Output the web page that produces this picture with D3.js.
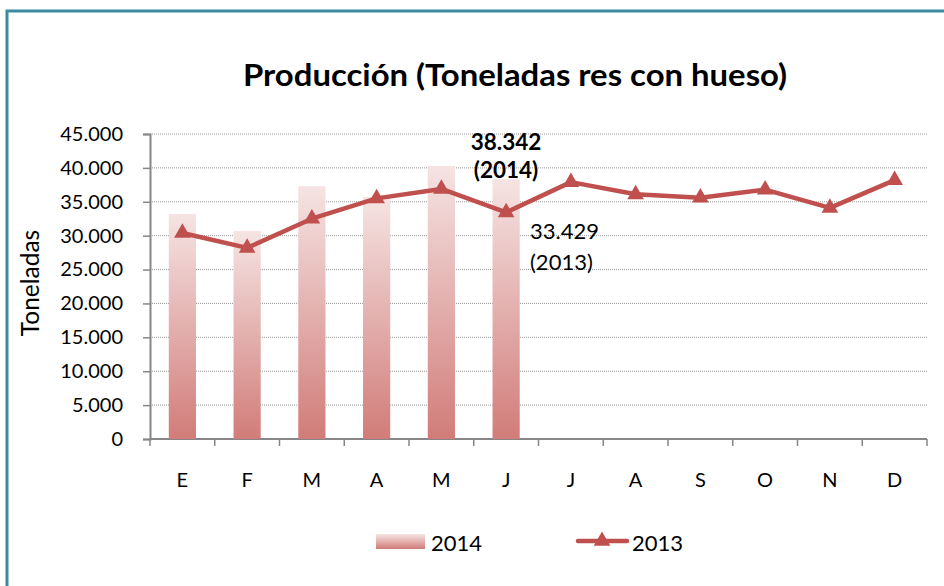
<!DOCTYPE html>
<html>
<head>
<meta charset="utf-8">
<script src="https://cdn.jsdelivr.net/npm/d3@7"></script>
<style>
  body { margin: 0; background: #fff; }
  svg { font-family: Lato, "Liberation Sans", sans-serif; }
</style>
</head>
<body>
<svg id="chart" width="944" height="586"></svg>
<script>
// months (Spanish initials) and production in tonnes
const months = ["E", "F", "M", "A", "M", "J", "J", "A", "S", "O", "N", "D"];
const prod2014 = [33200, 30700, 37300, 35700, 40300, 38342];
const prod2013 = [30400, 28200, 32500, 35500, 36900, 33429, 37900, 36100, 35600, 36800, 34100, 38200];
const yTicks = [0, 5000, 10000, 15000, 20000, 25000, 30000, 35000, 40000, 45000];

const red = "#C0504D";
const svg = d3.select("#chart");

svg.append("rect").attr("width", 944).attr("height", 586).attr("fill", "#fff");

// frame (only top and left edges visible)
svg.append("path")
  .attr("d", "M7,600 L7,11 L960,11")
  .attr("fill", "none")
  .attr("stroke", "#3A8BA0")
  .attr("stroke-width", 3);

// gradient for bars
const grad = svg.append("defs").append("linearGradient")
  .attr("id", "barGrad").attr("x1", 0).attr("y1", 0).attr("x2", 0).attr("y2", 1);
grad.append("stop").attr("offset", "0%").attr("stop-color", "#F5E4E3");
grad.append("stop").attr("offset", "100%").attr("stop-color", "#D17C79");

// scales
const idx = d3.range(months.length);
const xScale = d3.scaleBand().domain(idx).range([150, 927]);
const yScale = d3.scaleLinear().domain([0, 45000]).range([439, 134]);
const bw = xScale.bandwidth();

// grid lines
svg.append("g").selectAll("line")
  .data(yTicks.slice(1))
  .enter().append("line")
  .attr("x1", 150).attr("x2", 927)
  .attr("y1", d => yScale(d)).attr("y2", d => yScale(d))
  .attr("stroke", "#9A9A9A")
  .attr("stroke-width", 1)
  .attr("stroke-dasharray", "1,1");

// y axis
const yAxis = d3.axisLeft(yScale).tickValues(yTicks).tickSize(7)
  .tickFormat(d => d3.format(",")(d).replace(/,/g, "."));
const gy = svg.append("g").attr("transform", "translate(150,0)").call(yAxis);
gy.select(".domain").attr("stroke", "#868686").attr("stroke-width", 2);
gy.selectAll(".tick line").attr("stroke", "#868686").attr("stroke-width", 1.5);
gy.selectAll(".tick text")
  .attr("x", -27)
  .attr("font-size", 20)
  .attr("fill", "#000")
  .attr("font-family", "Lato");

// x axis: ticks between bands
const gx = svg.append("g").attr("transform", "translate(0,439)");
gx.append("line").attr("x1", 150).attr("x2", 927).attr("stroke", "#868686").attr("stroke-width", 2);
gx.selectAll(".xt").data(d3.range(months.length + 1)).enter().append("line")
  .attr("x1", i => 150 + i * bw).attr("x2", i => 150 + i * bw)
  .attr("y1", 0).attr("y2", 7)
  .attr("stroke", "#868686").attr("stroke-width", 1.5);
gx.selectAll(".xl").data(idx).enter().append("text")
  .attr("x", i => xScale(i) + bw / 2)
  .attr("y", 48)
  .attr("text-anchor", "middle")
  .attr("font-size", 20)
  .text(i => months[i]);

// bars 2014
const barW = bw * 0.42;
svg.append("g").selectAll("rect")
  .data(prod2014)
  .enter().append("rect")
  .attr("x", (d, i) => xScale(i) + (bw - barW) / 2)
  .attr("y", d => yScale(d))
  .attr("width", barW)
  .attr("height", d => 439 - yScale(d))
  .attr("fill", "url(#barGrad)");

// line 2013
const line = d3.line()
  .x((d, i) => xScale(i) + bw / 2)
  .y(d => yScale(d));
svg.append("path")
  .datum(prod2013)
  .attr("d", line)
  .attr("fill", "none")
  .attr("stroke", red)
  .attr("stroke-width", 4.5)
  .attr("stroke-linejoin", "round");

const tri = d3.symbol().type(d3.symbolTriangle).size(120);
svg.append("g").selectAll("path")
  .data(prod2013)
  .enter().append("path")
  .attr("d", tri)
  .attr("transform", (d, i) => "translate(" + (xScale(i) + bw / 2) + "," + yScale(d) + ")")
  .attr("fill", red);

// title
svg.append("text")
  .attr("x", 243).attr("y", 86)
  .attr("font-size", 29.5)
  .attr("font-weight", "bold")
  .attr("textLength", 544)
  .attr("lengthAdjust", "spacingAndGlyphs")
  .text("Producción (Toneladas res con hueso)");

// y label
svg.append("text")
  .attr("transform", "translate(39,283) rotate(-90)")
  .attr("text-anchor", "middle")
  .attr("font-size", 24.5)
  .text("Toneladas");

// annotations
svg.append("text").attr("x", 506).attr("y", 150).attr("text-anchor", "middle")
  .attr("font-size", 22.5).attr("font-weight", "bold").text("38.342");
svg.append("text").attr("x", 506).attr("y", 178).attr("text-anchor", "middle")
  .attr("font-size", 22.5).attr("font-weight", "bold").text("(2014)");
svg.append("text").attr("x", 530).attr("y", 239)
  .attr("font-size", 22).text("33.429");
svg.append("text").attr("x", 530).attr("y", 270)
  .attr("font-size", 22).text("(2013)");

// legend
const lg = svg.append("g");
lg.append("rect").attr("x", 376).attr("y", 534).attr("width", 49).attr("height", 15).attr("fill", "url(#barGrad)");
lg.append("text").attr("x", 431).attr("y", 551).attr("font-size", 22).text("2014");
lg.append("line").attr("x1", 578).attr("x2", 627).attr("y1", 541).attr("y2", 541)
  .attr("stroke", red).attr("stroke-width", 4.5).attr("stroke-linecap", "round");
lg.append("path").attr("d", tri).attr("transform", "translate(602,541)").attr("fill", red);
lg.append("text").attr("x", 632).attr("y", 551).attr("font-size", 22).text("2013");
</script>
</body>
</html>
